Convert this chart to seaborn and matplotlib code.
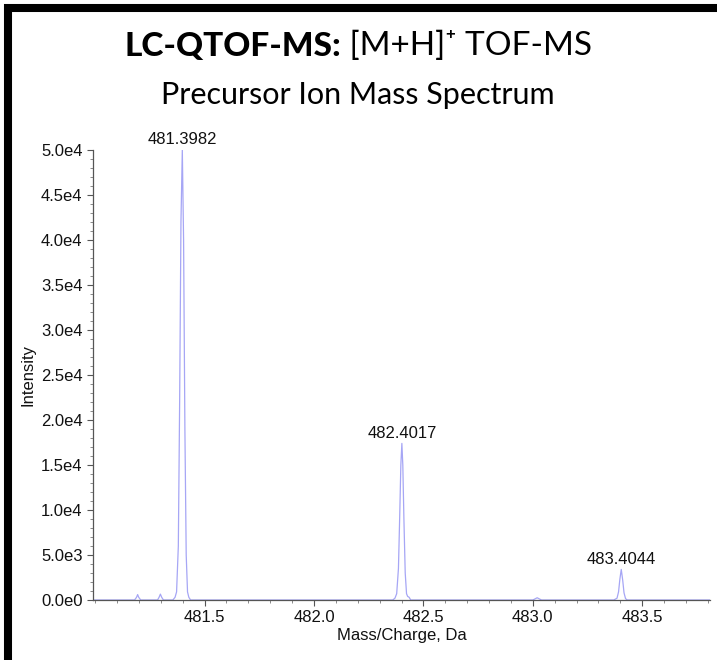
import numpy as np
import pandas as pd
import matplotlib
matplotlib.use("Agg")
import matplotlib.pyplot as plt
from matplotlib.ticker import MultipleLocator, FixedLocator, AutoMinorLocator, FuncFormatter
from matplotlib.patches import Rectangle
import seaborn as sns

# === profile points (m/z, intensity) ===
mz = [480.99,
      481.180, 481.189, 481.194, 481.199, 481.208,
      481.285, 481.292, 481.298, 481.304, 481.312,
      481.355, 481.365, 481.372, 481.380, 481.386, 481.392, 481.3982,
      481.404, 481.410, 481.416, 481.422, 481.428, 481.436,
      482.360, 482.370, 482.378, 482.386, 482.392, 482.397, 482.4017,
      482.406, 482.411, 482.417, 482.423, 482.428, 482.435, 482.442,
      483.000, 483.010, 483.020, 483.030, 483.040,
      483.370, 483.385, 483.392, 483.398, 483.4044,
      483.411, 483.417, 483.424, 483.432,
      483.81]
intensity = [0,
             0, 300, 600, 300, 0,
             0, 300, 650, 300, 0,
             0, 300, 900, 6000, 22000, 42000, 50000,
             40000, 19000, 5000, 900, 300, 0,
             0, 200, 700, 3500, 9500, 15000, 17400,
             15000, 9000, 3000, 700, 400, 300, 0,
             0, 120, 250, 120, 0,
             0, 200, 900, 2300, 3400,
             2200, 800, 150, 0,
             0]

peak_mz = [481.3982, 482.4017, 483.4044]
peak_int = [50000, 17400, 3400]
peak_labels = ["481.3982", "482.4017", "483.4044"]
x_ticks = [481.5, 482.0, 482.5, 483.0, 483.5]

df = pd.DataFrame({"mz": mz, "intensity": intensity})

sns.set_style("ticks")
plt.rcParams['font.family'] = ['Liberation Sans', 'DejaVu Sans']

fig = plt.figure(figsize=(7.17, 6.6), dpi=100)
ax = fig.add_axes([93 / 717, 60 / 660, 617 / 717, 450 / 660])

sns.lineplot(data=df, x="mz", y="intensity", ax=ax, color="#a6a6f5",
             linewidth=0.9, estimator=None, sort=False)

for x, y, lab in zip(peak_mz, peak_int, peak_labels):
    ax.annotate(lab, (x, y), xytext=(0, 2), textcoords="offset points",
                ha="center", va="bottom", fontsize=12, color="#111111",
                annotation_clip=False)

ax.set_xlim(480.99, 483.81)
ax.set_ylim(0, 50000)
ax.xaxis.set_major_locator(FixedLocator(x_ticks))
ax.xaxis.set_minor_locator(MultipleLocator(0.1))
ax.yaxis.set_major_locator(MultipleLocator(5000))
ax.yaxis.set_minor_locator(AutoMinorLocator(5))


def sci(v, pos):
    if v == 0:
        return "0.0e0"
    e = int(np.floor(np.log10(abs(v))))
    return f"{v / 10 ** e:.1f}e{e}"


ax.yaxis.set_major_formatter(FuncFormatter(sci))
ax.xaxis.set_major_formatter(FuncFormatter(lambda v, p: f"{v:.1f}"))
ax.tick_params(axis="both", which="major", length=4, width=0.8,
               labelsize=12, color="#555555", labelcolor="#111111")
ax.tick_params(axis="both", which="minor", length=2, width=0.6, color="#777777")
for s in ["left", "bottom"]:
    ax.spines[s].set_color("#555555")
    ax.spines[s].set_linewidth(0.9)
sns.despine(ax=ax)

ax.set_xlabel("Mass/Charge, Da", fontsize=12, color="#111111", labelpad=2)
ax.set_ylabel("Intensity", fontsize=12, color="#111111", labelpad=4)

# === title: bold part + regular part on first line ===
tfam = ["Lato", "DejaVu Sans"]
t1 = fig.text(0, 0, "LC-QTOF-MS:", fontsize=24, fontweight="black",
              family=tfam, va="center", ha="left", color="black")
t2 = fig.text(0, 0, " [M+H]\u207A TOF-MS", fontsize=24, fontweight="normal",
              family=tfam, va="center", ha="left", color="black")
fig.canvas.draw()
r = fig.canvas.get_renderer()
w1 = t1.get_window_extent(r).width / fig.bbox.width
w2 = t2.get_window_extent(r).width / fig.bbox.width
x0 = 358 / 717 - (w1 + w2) / 2
y1 = 1 - 46 / 660
t1.set_position((x0, y1))
t2.set_position((x0 + w1, y1))
fig.text(358 / 717, 1 - 95 / 660, "Precursor Ion Mass Spectrum", fontsize=22,
         fontweight="normal", family=tfam, va="center", ha="center",
         color="black")

# frame around the figure
fig.patches.append(Rectangle((8 / 717, -2 / 660), 1.05, 1 - 6 / 660,
                             transform=fig.transFigure, fill=False,
                             edgecolor="black", linewidth=5.8))

fig.savefig("out.png", dpi=100)
